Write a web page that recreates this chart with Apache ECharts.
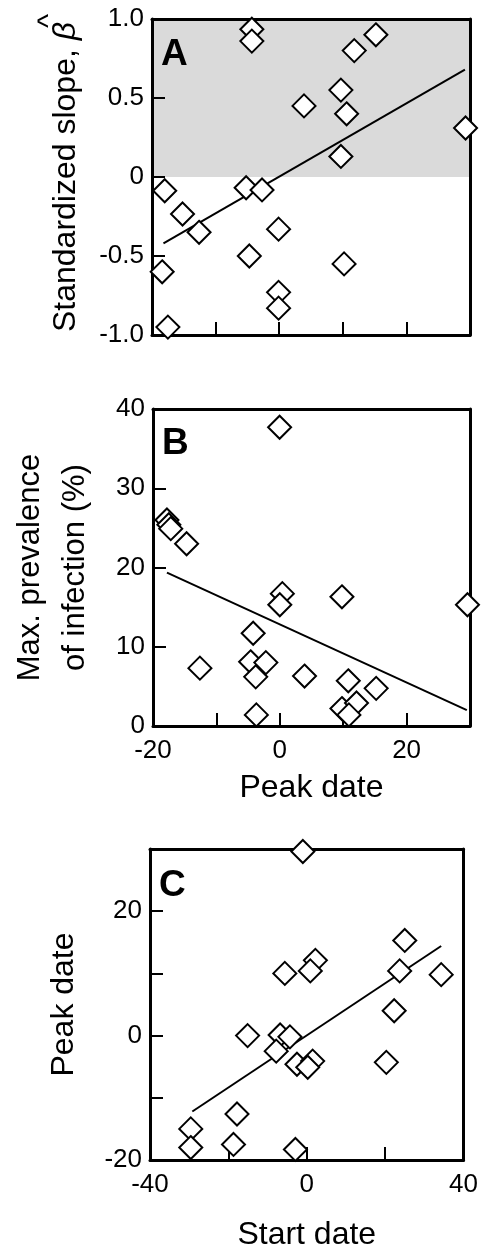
<!DOCTYPE html>
<html><head><meta charset="utf-8">
<script src="https://cdn.jsdelivr.net/npm/echarts@6/dist/echarts.min.js"></script>
<style>html,body{margin:0;padding:0;background:#fff}#c{width:481px;height:1252px}</style>
</head><body><div id="c"></div>
<script>
// Panel A: peak date vs standardized slope
const peakDateA = [-4.3, -4.3, 15.2, 11.8, 9.7, 3.9, 10.6, 29.3, 9.7, -18.0, -5.2, -2.7, -15.2, -12.6, -0.1, -4.7, 10.2, -18.4, -0.1, -0.1, -17.5];
const slopeA    = [0.935, 0.86, 0.90, 0.80, 0.55, 0.45, 0.40, 0.31, 0.13, -0.087, -0.068, -0.082, -0.234, -0.35, -0.33, -0.50, -0.55, -0.60, -0.73, -0.83, -0.95];
const fitA_x = [-18.2, 29.2];
const fitA_y = [-0.42, 0.68];
const shadeA = [0, 1];

// Panel B: peak date vs max prevalence
const peakDateB = [-0.03, -17.8, -17.5, -17.2, -14.7, 0.4, 0.0, 9.8, 29.6, -4.2, -12.6, -4.6, -2.2, -3.8, 3.9, 10.8, 15.2, 9.8, 12.1, 10.9, -3.7];
const prevB     = [37.7, 26.0, 25.4, 24.9, 23.0, 16.7, 15.3, 16.3, 15.3, 11.7, 7.3, 8.1, 8.0, 6.2, 6.3, 5.7, 4.75, 2.2, 2.9, 1.4, 1.4];
const fitB_x = [-17.8, 29.5];
const fitB_y = [19.35, 2.0];

// Panel C: start date vs peak date
const startDateC = [-1.0, 25, 2.2, 0.9, -5.6, 23.7, 34.3, 22.3, -15.1, -6.8, -4.3, -7.8, -2.5, 1.5, 0.25, 20.3, -17.8, -29.6, -29.6, -18.7, -2.9];
const peakDateC  = [29.6, 15.3, 12.1, 10.4, 10.0, 10.4, 9.8, 4.0, 0.0, 0.1, -0.2, -2.5, -4.6, -4.1, -5.1, -4.3, -12.6, -15.0, -18.0, -17.5, -18.3];
const fitC_x = [-29.2, 34.3];
const fitC_y = [-12.2, 14.4];

// Axis ranges / tick labels
const axA_x = {min: -20, max: 30, interval: 10, labels: []};
const axA_y = {min: -1, max: 1, interval: 0.5, labels: [-1, -0.5, 0, 0.5, 1]};
const axB_x = {min: -20, max: 30, interval: 10, labels: [-20, 0, 20]};
const axB_y = {min: 0, max: 40, interval: 10, labels: [0, 10, 20, 30, 40]};
const axC_x = {min: -40, max: 40, interval: 20, labels: [-40, 0, 40]};
const axC_y = {min: -20, max: 30, interval: 10, labels: [-20, 0, 20]};

const FONT = "'Liberation Sans', Arial, Helvetica, sans-serif";
const zip = (a, b) => a.map((v, i) => [v, b[i]]);

function mainAxis(dim, gi, ax, fmt, name, nameGap, extra) {
  const o = {
    type: 'value', gridIndex: gi, min: ax.min, max: ax.max, interval: ax.interval,
    position: dim === 'x' ? 'bottom' : 'left', z: 3,
    splitLine: {show: false},
    axisLine: {show: true, onZero: false, lineStyle: {color: '#000', width: 3}},
    axisTick: {show: true, inside: true, length: 13, lineStyle: {color: '#000', width: 2}},
    axisLabel: {
      show: ax.labels.length > 0, color: '#000', fontFamily: FONT, fontSize: 26,
      margin: dim === 'x' ? 12 : 8, showMinLabel: true, showMaxLabel: true,
      formatter: v => {
        const hit = ax.labels.some(l => Math.abs(l - v) < 1e-9);
        return hit ? fmt(v) : '';
      }
    },
    name: name || '', nameLocation: 'middle', nameGap: nameGap || 0,
    nameTextStyle: {color: '#000', fontFamily: FONT, fontSize: 32}
  };
  return Object.assign(o, extra || {});
}
function frameAxis(dim, gi, ax) {
  return {
    type: 'value', gridIndex: gi, min: ax.min, max: ax.max, interval: ax.interval,
    position: dim === 'x' ? 'top' : 'right', z: 3,
    splitLine: {show: false}, axisTick: {show: false}, axisLabel: {show: false},
    axisLine: {show: true, onZero: false, lineStyle: {color: '#000', width: 3}}
  };
}
const fmtA = v => v === 0 ? '0' : v.toFixed(1);
const fmtI = v => String(v);

const diamond = (xi, yi, data) => ({
  type: 'scatter', xAxisIndex: xi, yAxisIndex: yi, data, symbol: 'diamond', symbolSize: 23,
  clip: false, z: 5,
  itemStyle: {color: '#fff', borderColor: '#000', borderWidth: 2, opacity: 1}
});
const fitLine = (xi, yi, data) => ({
  type: 'line', xAxisIndex: xi, yAxisIndex: yi, data, symbol: 'none', z: 4,
  lineStyle: {color: '#000', width: 2}
});

const option = {
  animation: false,
  backgroundColor: '#fff',
  grid: [
    {left: 152, top: 19, width: 318, height: 316},
    {left: 152, top: 409, width: 318, height: 317},
    {left: 150, top: 849, width: 316, height: 315}
  ],
  xAxis: [
    mainAxis('x', 0, axA_x, fmtI),
    frameAxis('x', 0, axA_x),
    mainAxis('x', 1, axB_x, fmtI, 'Peak date', 46),
    frameAxis('x', 1, axB_x),
    mainAxis('x', 2, axC_x, fmtI, 'Start date', 59),
    frameAxis('x', 2, axC_x)
  ],
  yAxis: [
    mainAxis('y', 0, axA_y, fmtA, 'Standardized slope, {b|β}', 70,
      {nameTextStyle: {color: '#000', fontFamily: FONT, fontSize: 32,
        rich: {b: {fontFamily: FONT, fontSize: 32, fontStyle: 'italic', color: '#000'}}}}),
    frameAxis('y', 0, axA_y),
    mainAxis('y', 1, axB_y, fmtI, 'Max. prevalence\nof infection (%)', 55,
      {nameTextStyle: {color: '#000', fontFamily: FONT, fontSize: 31, lineHeight: 45}}),
    frameAxis('y', 1, axB_y),
    mainAxis('y', 2, axC_y, fmtI, 'Peak date', 70),
    frameAxis('y', 2, axC_y)
  ],
  graphic: [
    {type: 'text', z: 100, x: 161, y: 55, style: {text: 'A', font: "bold 37px " + FONT, fill: '#000', textVerticalAlign: 'middle'}},
    {type: 'text', z: 100, x: 162, y: 444, style: {text: 'B', font: "bold 37px " + FONT, fill: '#000', textVerticalAlign: 'middle'}},
    {type: 'text', z: 100, x: 159, y: 886, style: {text: 'C', font: "bold 37px " + FONT, fill: '#000', textVerticalAlign: 'middle'}},
    {type: 'text', z: 100, x: 50, y: 21, rotation: Math.PI / 2,
      style: {text: '^', font: "30px " + FONT, fill: '#000', textAlign: 'center', textVerticalAlign: 'middle'}}
  ],
  series: [
    {type: 'line', xAxisIndex: 0, yAxisIndex: 0, data: [], z: 1,
      markArea: {silent: true, itemStyle: {color: '#dadada'},
        data: [[{yAxis: shadeA[0]}, {yAxis: shadeA[1]}]]}},
    fitLine(0, 0, zip(fitA_x, fitA_y)),
    diamond(0, 0, zip(peakDateA, slopeA)),
    fitLine(2, 2, zip(fitB_x, fitB_y)),
    diamond(2, 2, zip(peakDateB, prevB)),
    fitLine(4, 4, zip(fitC_x, fitC_y)),
    diamond(4, 4, zip(startDateC, peakDateC))
  ]
};
const chart = echarts.init(document.getElementById('c'), null, {renderer: 'canvas'});
chart.setOption(option);
</script>
</body></html>
